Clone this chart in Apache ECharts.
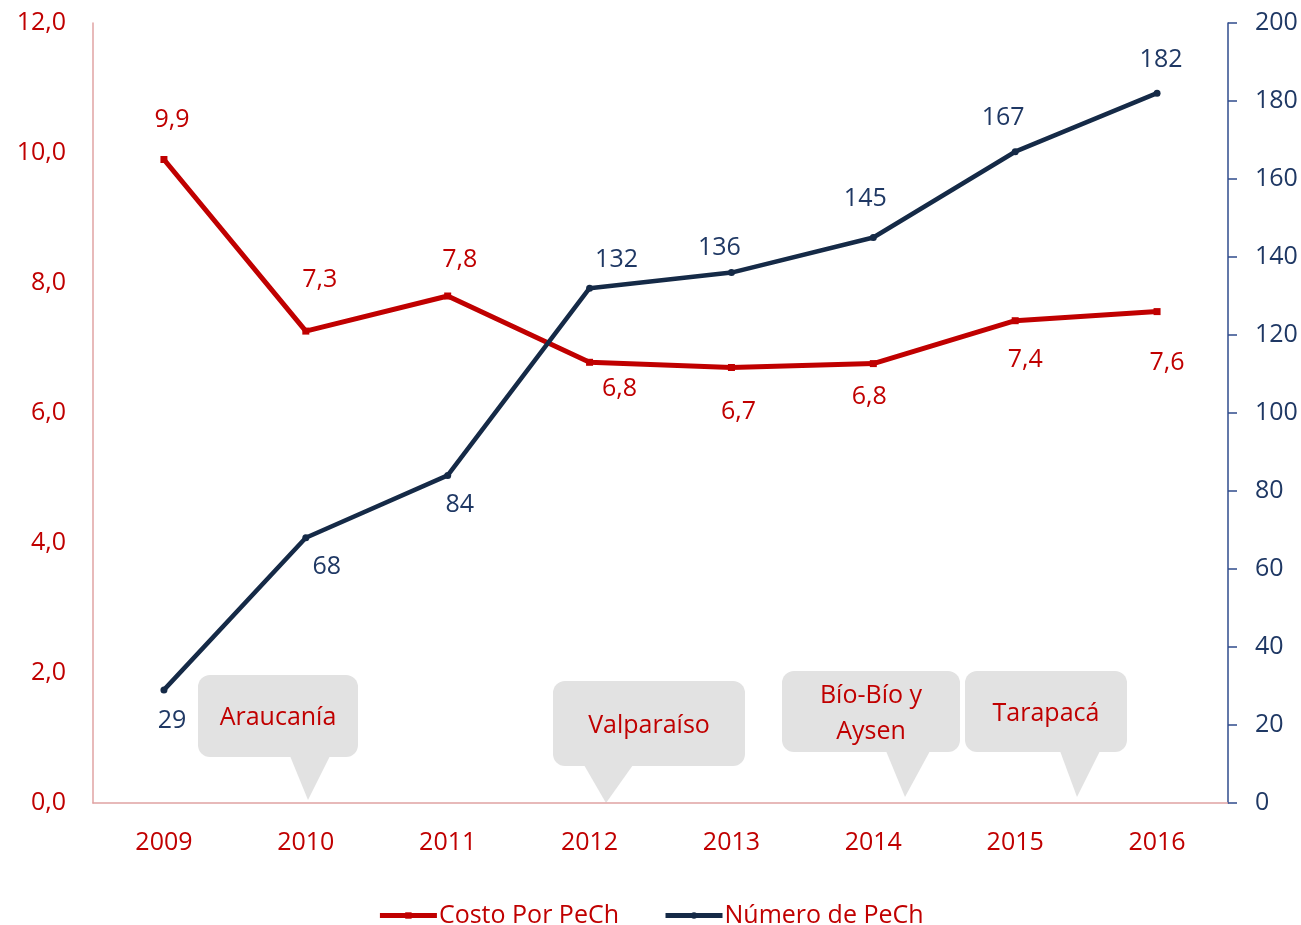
<!DOCTYPE html>
<html>
<head>
<meta charset="utf-8">
<script src="https://cdn.jsdelivr.net/npm/echarts@6/dist/echarts.min.js"></script>
<style>
  html, body { margin: 0; padding: 0; background: #fff; }
  #chart { width: 1301px; height: 925px; }
</style>
</head>
<body>
<div id="chart"></div>
<script>
// datos
var years = ['2009', '2010', '2011', '2012', '2013', '2014', '2015', '2016'];
var costoPorPeCh = [9.9, 7.26, 7.8, 6.78, 6.7, 6.76, 7.42, 7.56];
var numeroPeCh = [29, 68, 84, 132, 136, 145, 167, 182];
var costoTicks = [0, 2, 4, 6, 8, 10, 12];
var numeroTicks = [0, 20, 40, 60, 80, 100, 120, 140, 160, 180, 200];
// desplazamiento de las etiquetas [dx, dy] respecto del punto
var costoLabelOffset = [[8, -40], [14, -51], [12, -36], [30, 27], [7, 44], [-4, 33], [10, 39], [10, 51]];
var numeroLabelOffset = [[8, 31], [21, 29], [12, 29], [27, -28], [-12, -25], [-8, -39], [-12, -34], [4, -33]];

var RED = '#c00000';
var NAVY = '#1f3864';
var LINE_NAVY = '#152a47';
var FONT = '"Open Sans", sans-serif';

function coma(v, d) {
  return v.toFixed(d).replace('.', ',');
}

var myChart = echarts.init(document.getElementById('chart'));

// burbujas de texto (anotaciones)
function burbuja(x, y, w, h, tip, lines) {
  return {
    type: 'group',
    children: [
      { type: 'rect', shape: { x: x, y: y, width: w, height: h, r: 12 }, style: { fill: '#e2e2e2' } },
      { type: 'polygon', shape: { points: [[tip[0], y + h - 1], [tip[1], y + h - 1], [tip[2], tip[3]]] }, style: { fill: '#e2e2e2' } },
      { type: 'text', x: x + w / 2, y: y + h / 2 + 2, style: {
          text: lines, fill: RED, font: '25px ' + FONT, align: 'center', verticalAlign: 'middle', lineHeight: 36
      } }
    ]
  };
}

var option = {
  backgroundColor: '#fff',
  animation: false,
  grid: { left: 93, right: 73, top: 23, bottom: 122 },
  legend: {
    left: 'center',
    top: 898,
    itemWidth: 57,
    itemHeight: 8,
    itemGap: 44,
    textStyle: { color: RED, fontSize: 25, fontFamily: FONT, padding: [0, 0, 0, -3] },
    data: [
      { name: 'Costo Por PeCh', lineStyle: { width: 5, color: RED } },
      { name: 'Número de PeCh', lineStyle: { width: 5, color: LINE_NAVY } }
    ]
  },
  xAxis: {
    type: 'category',
    data: years,
    boundaryGap: true,
    axisLine: { lineStyle: { color: '#e0a3a3', width: 1.5 } },
    axisTick: { show: false },
    axisLabel: { color: RED, fontSize: 25, fontFamily: FONT, margin: 27 }
  },
  yAxis: [
    {
      type: 'value',
      min: costoTicks[0],
      max: costoTicks[costoTicks.length - 1],
      interval: costoTicks[1] - costoTicks[0],
      splitLine: { show: false },
      axisLine: { show: true, lineStyle: { color: '#e0a3a3', width: 1.5 } },
      axisTick: { show: false },
      axisLabel: { color: RED, fontSize: 25, fontFamily: FONT, margin: 27, formatter: function (v) { return coma(v, 1); } }
    },
    {
      type: 'value',
      position: 'right',
      min: numeroTicks[0],
      max: numeroTicks[numeroTicks.length - 1],
      interval: numeroTicks[1] - numeroTicks[0],
      splitLine: { show: false },
      axisLine: { show: true, lineStyle: { color: '#2f4b8c', width: 1.5 } },
      axisTick: { show: true, length: 9, lineStyle: { color: '#2f4b8c', width: 1.5 } },
      axisLabel: { color: NAVY, fontSize: 25, fontFamily: FONT, margin: 27 }
    }
  ],
  series: [
    {
      name: 'Costo Por PeCh',
      type: 'line',
      yAxisIndex: 0,
      data: costoPorPeCh.map(function (v, i) {
        return { value: v, label: { offset: costoLabelOffset[i] } };
      }),
      symbol: 'rect',
      symbolSize: 7,
      lineStyle: { color: RED, width: 5 },
      itemStyle: { color: RED },
      label: {
        show: true,
        position: 'inside',
        color: RED,
        fontSize: 25,
        fontFamily: FONT,
        formatter: function (p) { return coma(p.value, 1); }
      },
      z: 3
    },
    {
      name: 'Número de PeCh',
      type: 'line',
      yAxisIndex: 1,
      data: numeroPeCh.map(function (v, i) {
        return { value: v, label: { offset: numeroLabelOffset[i] } };
      }),
      symbol: 'circle',
      symbolSize: 7,
      lineStyle: { color: LINE_NAVY, width: 4.5 },
      itemStyle: { color: LINE_NAVY },
      label: {
        show: true,
        position: 'inside',
        color: NAVY,
        fontSize: 25,
        fontFamily: FONT
      },
      z: 4
    }
  ],
  graphic: [
    burbuja(198, 675, 160, 82, [290, 330, 308, 800], 'Araucanía'),
    burbuja(553, 681, 192, 85, [584, 633, 606, 803], 'Valparaíso'),
    burbuja(782, 671, 178, 81, [886, 930, 905, 797], 'Bío-Bío y\nAysen'),
    burbuja(965, 671, 162, 81, [1060, 1100, 1077, 797], 'Tarapacá')
  ]
};

myChart.setOption(option);
</script>
</body>
</html>
